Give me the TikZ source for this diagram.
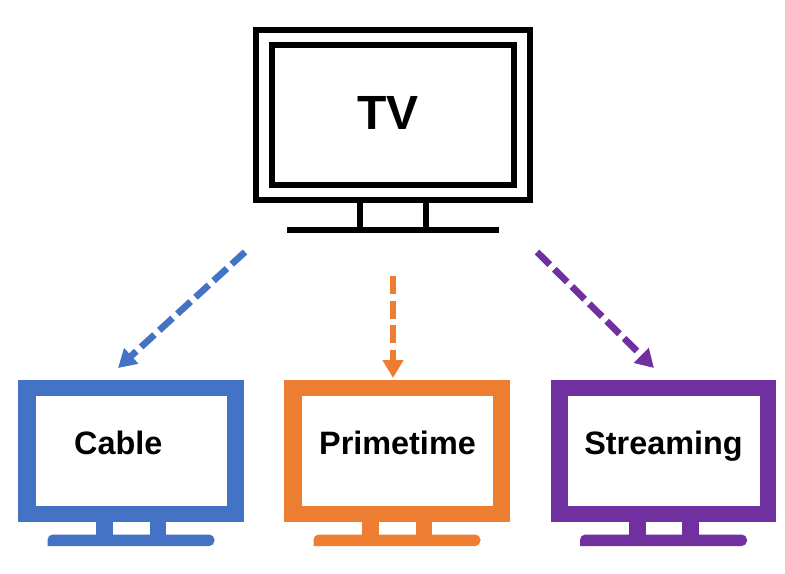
\documentclass[tikz,border=0pt]{standalone}
\usepackage{fontspec}
\setmainfont{Liberation Sans}
\usetikzlibrary{arrows.meta}
\definecolor{tvblue}{HTML}{4472C4}
\definecolor{tvorange}{HTML}{ED7D31}
\definecolor{tvpurple}{HTML}{7030A0}
\tikzset{
  bigline/.style={draw=black,line width=4.5pt},
  bigstand/.style={draw=black,line width=4pt},
  biglabel/.style={font=\bfseries\fontsize{36pt}{40pt}\selectfont,text=black,inner sep=0pt,anchor=base},
  smalllabel/.style={font=\bfseries\fontsize{24.3pt}{28pt}\selectfont,text=black,inner sep=0pt,anchor=base},
  flow/.style={line width=5pt,dash pattern=on 13.5pt off 4.9pt,
    -{Triangle[length=13.5pt,width=15pt]}},
  pics/smalltv/.style={code={
    \fill[#1] (18,379.5) rectangle (243.5,522);
    \fill[white] (35.5,396) rectangle (227,505.5);
    \fill[#1] (96,521) rectangle (113,536);
    \fill[#1] (149.5,521) rectangle (166,536);
    \fill[#1] (47.5,546) [rounded corners=4pt] -- (47.5,534.5) -- (214.5,534.5) -- (214.5,546) [sharp corners] -- cycle;
  }}
}
\begin{document}
\begin{tikzpicture}[x=0.75pt,y=-0.75pt]
\useasboundingbox (0,0) rectangle (785,574);
\fill[white] (0,0) rectangle (785,574);
% large television
\draw[bigline] (256,30) rectangle (530,200);
\draw[bigline] (272,45) rectangle (514,185);
\draw[bigstand] (360,203) -- (360,228);
\draw[bigstand] (426,203) -- (426,228);
\draw[bigline] (287,230) -- (499,230);
\node[biglabel] (tv) at (388.3,130) {TV};
% small televisions
\pic at (0,0) {smalltv=tvblue};
\pic at (266,0) {smalltv=tvorange};
\pic at (532.5,0) {smalltv=tvpurple};
\node[smalllabel] (cable) at (118.3,454.5) {Cable};
\node[smalllabel] (prime) at (397.5,454.5) {Primetime};
\node[smalllabel] (stream) at (663.5,454.5) {Streaming};
% connectors
\coordinate (a1) at (245,252);
\coordinate (a2) at (118,368);
\coordinate (b1) at (393,276);
\coordinate (b2) at (393,378);
\coordinate (c1) at (537,252);
\coordinate (c2) at (654,368);
\draw[flow,tvblue] (a1) -- (a2);
\draw[flow,tvorange] (b1) -- (b2);
\draw[flow,tvpurple] (c1) -- (c2);
\end{tikzpicture}
\end{document}
